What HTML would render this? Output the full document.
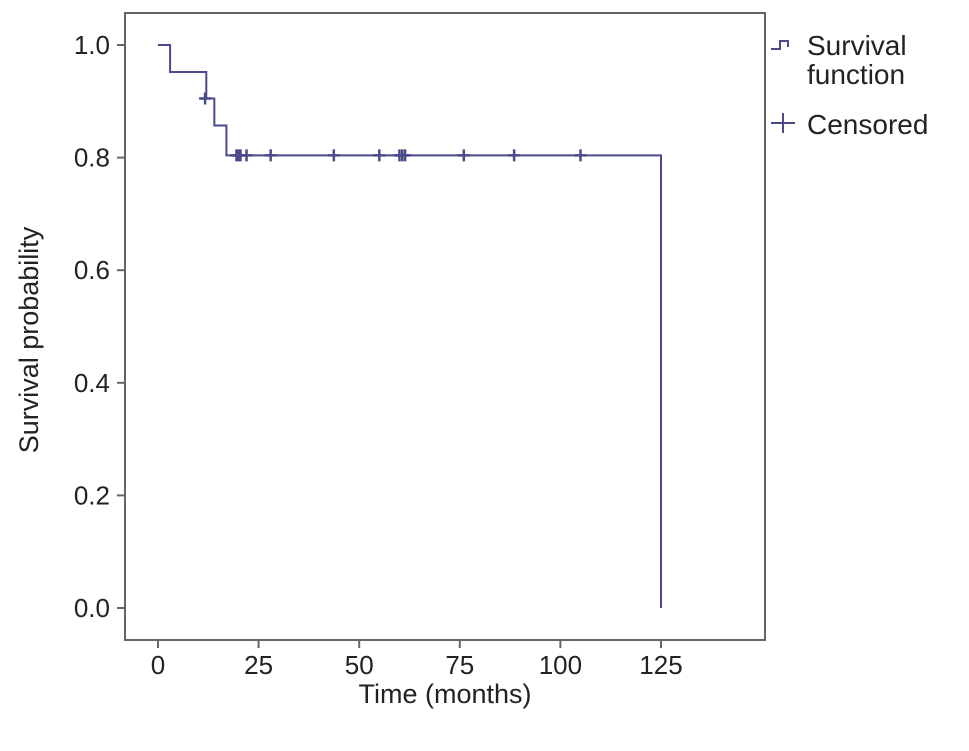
<!DOCTYPE html>
<html><head><meta charset="utf-8"><style>
body{margin:0;background:#fff;}
svg{display:block;font-family:"Liberation Sans",Arial,sans-serif;}
</style></head><body>
<svg id="chart" width="969" height="751">
<rect x="125" y="13" width="640" height="627" fill="#fff" stroke="#666" stroke-width="2"/>
<g id="axes"></g>
<g id="marks"></g>
<text x="445" y="703" text-anchor="middle" font-size="27" fill="#222">Time (months)</text>
<text transform="translate(38,340) rotate(-90)" text-anchor="middle" font-size="27" fill="#222">Survival probability</text>
<g>
<path d="M771,49 h9 v-8 h8 v6" fill="none" stroke="#4a4a8a" stroke-width="2"/>
<text x="807" y="55" font-size="28" fill="#222">Survival</text>
<text x="807" y="84" font-size="28" fill="#222">function</text>
<path d="M771,123 h24 M783,113 v20" fill="none" stroke="#4a4a8a" stroke-width="2"/>
<text x="807" y="134" font-size="28" fill="#222">Censored</text>
</g>
</svg>
<script>
const stepTimes=[0,3,12,14,17,125];
const stepSurv=[1.0,0.952,0.905,0.857,0.804,0.0];
const censorTimes=[11.7,19.5,20,20.5,22,28,43.7,55,60,60.7,61.4,76,88.5,105];
const censorSurv=[0.905,0.804,0.804,0.804,0.804,0.804,0.804,0.804,0.804,0.804,0.804,0.804,0.804,0.804];
const xTicks=[0,25,50,75,100,125];
const yTicks=[0.0,0.2,0.4,0.6,0.8,1.0];
const xs=t=>158+t*(661-158)/125;
const ys=v=>608-v*(608-45);
const NS="http://www.w3.org/2000/svg";
const axes=document.getElementById('axes'),marks=document.getElementById('marks');
function mk(tag,attrs,parent){const e=document.createElementNS(NS,tag);for(const k in attrs)e.setAttribute(k,attrs[k]);parent.appendChild(e);return e;}
xTicks.forEach(t=>{
  const l=mk('line',{x1:xs(t),x2:xs(t),y1:640,y2:648,stroke:'#666','stroke-width':2},axes);
  
  
  const tx=mk('text',{x:xs(t),y:674,'text-anchor':'middle','font-size':26,fill:'#222'},axes);
  tx.textContent=t;
  
  
});
yTicks.forEach(v=>{
  const l=mk('line',{x1:117,x2:125,y1:ys(v),y2:ys(v),stroke:'#666','stroke-width':2},axes);
  
  
  const tx=mk('text',{x:110,y:ys(v)+9,'text-anchor':'end','font-size':26,fill:'#222'},axes);
  tx.textContent=v.toFixed(1);
  
  
});
let d='M'+xs(stepTimes[0])+','+ys(stepSurv[0]);
for(let i=1;i<stepTimes.length;i++){d+=' H'+xs(stepTimes[i])+' V'+ys(stepSurv[i]);}
const p=mk('path',{d:d,fill:'none',stroke:'#4a4a8a','stroke-width':2},marks);


censorTimes.forEach((t,i)=>{
  const x=xs(t),y=ys(censorSurv[i]);
  const c=mk('path',{d:`M${x-6},${y} h12 M${x},${y-6} v12`,stroke:'#4a4a8a','stroke-width':2.5,fill:'none'},marks);
  
  
});
</script>
</body></html>
